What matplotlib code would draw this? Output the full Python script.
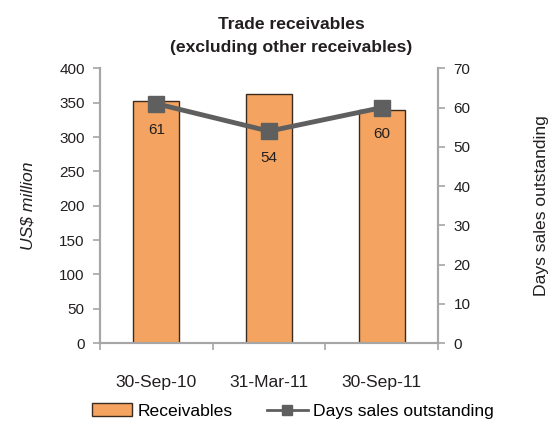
import matplotlib.pyplot as plt
from matplotlib.lines import Line2D
from matplotlib.patches import Patch

# data
dates = ["30-Sep-10", "31-Mar-11", "30-Sep-11"]
receivables = [353, 362, 340]
dso = [61, 54, 60]

bar_color = "#F4A460"
edge_color = "#3B2B1E"
line_color = "#5F5F5F"
axis_color = "#A6A6A6"
text_color = "#231F20"

plt.rcParams["font.family"] = ["Liberation Sans", "DejaVu Sans"]

fig = plt.figure(figsize=(5.49, 4.22), dpi=100)
ax = fig.add_axes([0.182, 0.187, 0.616, 0.651])
ax2 = ax.twinx()

x = list(range(len(dates)))
ax.bar(x, receivables, width=0.41, color=bar_color, edgecolor=edge_color, linewidth=1.0, zorder=2)
ax2.plot(x, dso, color=line_color, linewidth=3.5, marker="s", markersize=11, zorder=3)

# value labels under the markers
for xi, v in zip(x, dso):
    ax2.annotate(str(v), (xi, v), xytext=(0, -19), textcoords="offset points",
                 ha="center", va="center", fontsize=11, color=text_color)

ax.set_xlim(-0.5, 2.5)
ax.set_ylim(0, 400)
ax2.set_ylim(0, 70)
ax.set_yticks(range(0, 401, 50))
ax2.set_yticks(range(0, 71, 10))

ax.set_xticks(x)
ax.set_xticklabels(dates, fontsize=12.6, color=text_color)
ax.tick_params(axis="x", which="major", length=0, pad=23)
ax.set_xticks([-0.5, 0.5, 1.5, 2.5], minor=True)
ax.tick_params(axis="x", which="minor", length=5, color=axis_color, width=1.2)

ax.tick_params(axis="y", length=5, color=axis_color, width=1.2, labelsize=11, labelcolor=text_color, pad=6)
ax2.tick_params(axis="y", length=5, color=axis_color, width=1.2, labelsize=11, labelcolor=text_color, pad=6)

for a in (ax, ax2):
    a.spines["top"].set_visible(False)
    for s in ("left", "right", "bottom"):
        a.spines[s].set_color(axis_color)
        a.spines[s].set_linewidth(1.5)

ax.set_ylabel("US$ million", fontsize=12.6, style="italic", color=text_color, labelpad=17)
ax2.set_ylabel("Days sales outstanding", fontsize=12.6, color=text_color, labelpad=46)

fig.text(0.53, 0.943, "Trade receivables", ha="center", va="center",
         fontsize=12.6, fontweight="bold", color=text_color)
fig.text(0.53, 0.887, "(excluding other receivables)", ha="center", va="center",
         fontsize=12.6, fontweight="bold", color=text_color)

handles = [Patch(facecolor=bar_color, edgecolor=edge_color, linewidth=1.0),
           Line2D([], [], color=line_color, linewidth=2, marker="s", markersize=7)]
fig.legend(handles, ["Receivables", "Days sales outstanding"], loc="center",
           bbox_to_anchor=(0.533, 0.026), ncol=2, frameon=False, fontsize=12.6,
           handlelength=2.3, handletextpad=0.3, columnspacing=2.0)

fig.savefig("out.png", dpi=100, facecolor="white")
